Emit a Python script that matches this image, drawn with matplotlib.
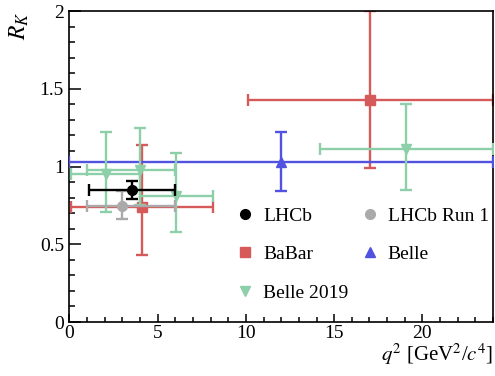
import matplotlib
matplotlib.use("Agg")
import matplotlib.pyplot as plt
from matplotlib.lines import Line2D
from matplotlib.ticker import MultipleLocator
import numpy as np

plt.rcParams['font.family'] = ['Liberation Serif', 'DejaVu Serif']
plt.rcParams['mathtext.fontset'] = 'stix'

# ---- data ----
lhcb_x = [3.57]; lhcb_xlo = [1.1]; lhcb_xhi = [6.0]
lhcb_y = [0.846]; lhcb_eup = [0.062]; lhcb_edn = [0.056]

run1_x = [3.0]; run1_xlo = [1.0]; run1_xhi = [6.0]
run1_y = [0.745]; run1_eup = [0.097]; run1_edn = [0.082]

babar_x = [4.11, 17.05]; babar_xlo = [0.1, 10.11]; babar_xhi = [8.12, 24.0]
babar_y = [0.74, 1.43]; babar_eup = [0.40, 0.57]; babar_edn = [0.31, 0.44]

belle_x = [12.0]; belle_xlo = [0.0]; belle_xhi = [24.0]
belle_y = [1.03]; belle_eup = [0.19]; belle_edn = [0.19]

b19_x = [2.05, 4.0, 6.06, 19.09]; b19_xlo = [0.1, 1.0, 4.0, 14.18]; b19_xhi = [4.0, 6.0, 8.12, 24.0]
b19_y = [0.95, 0.98, 0.81, 1.11]; b19_eup = [0.27, 0.27, 0.28, 0.29]; b19_edn = [0.24, 0.23, 0.23, 0.26]

fig = plt.figure(figsize=(4.95, 3.76), dpi=100)
ax = fig.add_axes([0.1404, 0.1436, 0.996 - 0.1404, 0.9707 - 0.1436])

def draw(x, xlo, xhi, y, eup, edn, color, marker, ms, z, label):
    x = np.array(x); y = np.array(y)
    xerr = [x - np.array(xlo), np.array(xhi) - x]
    yerr = [np.array(edn), np.array(eup)]
    ax.errorbar(x, y, xerr=xerr, yerr=yerr, fmt=marker, color=color, ms=ms,
                lw=1.7, capsize=4.3, capthick=1.7, zorder=z, clip_on=True)
    return Line2D([], [], ls='none', marker=marker, color=color, ms=ms, label=label)

RED = '#d65a5a'; GREEN = '#8ccfa8'; BLUE = '#5252e0'; GRAY = '#aaaaaa'
h_babar = draw(babar_x, babar_xlo, babar_xhi, babar_y, babar_eup, babar_edn, RED, 's', 7, 2, 'BaBar')
h_belle = draw(belle_x, belle_xlo, belle_xhi, belle_y, belle_eup, belle_edn, BLUE, '^', 7, 3, 'Belle')
h_b19 = draw(b19_x, b19_xlo, b19_xhi, b19_y, b19_eup, b19_edn, GREEN, 'v', 7, 4, 'Belle 2019')
h_run1 = draw(run1_x, run1_xlo, run1_xhi, run1_y, run1_eup, run1_edn, GRAY, 'o', 7, 5, 'LHCb Run 1')
h_lhcb = draw(lhcb_x, lhcb_xlo, lhcb_xhi, lhcb_y, lhcb_eup, lhcb_edn, 'black', 'o', 7, 6, 'LHCb')

ax.set_xlim(0, 24)
ax.set_ylim(0, 2)
ax.xaxis.set_major_locator(MultipleLocator(5))
ax.xaxis.set_minor_locator(MultipleLocator(1))
ax.yaxis.set_major_locator(MultipleLocator(0.5))
ax.yaxis.set_minor_locator(MultipleLocator(0.1))
ax.set_yticks([0, 0.5, 1, 1.5, 2])
ax.set_yticklabels(['0', '0.5', '1', '1.5', '2'])
ax.tick_params(axis='both', which='both', direction='in', top=False, right=False, labelsize=14)
ax.tick_params(axis='y', which='major', length=8.6, width=1.1, pad=4)
ax.tick_params(axis='y', which='minor', length=4.3, width=1.1)
ax.tick_params(axis='x', which='major', length=6, width=1.1, pad=2)
ax.tick_params(axis='x', which='minor', length=3.5, width=1.1)
for s in ax.spines.values():
    s.set_linewidth(1.2)

ax.set_ylabel('$R_K$', fontsize=17, loc='top', labelpad=6)
ax.set_xlabel('$q^2$ [GeV$^2$/$c^4$]', fontsize=15, loc='right', labelpad=0)

fig.legend(handles=[h_lhcb, h_babar, h_b19, h_run1, h_belle], ncol=2,
           loc='upper left', bbox_to_anchor=(0.4754, 0.4494), bbox_transform=fig.transFigure,
           frameon=False, fontsize=14, handlelength=1.0, handletextpad=0.43,
           columnspacing=0.6, labelspacing=1.08, borderpad=0, borderaxespad=0)

fig.savefig('out.png', dpi=100)
